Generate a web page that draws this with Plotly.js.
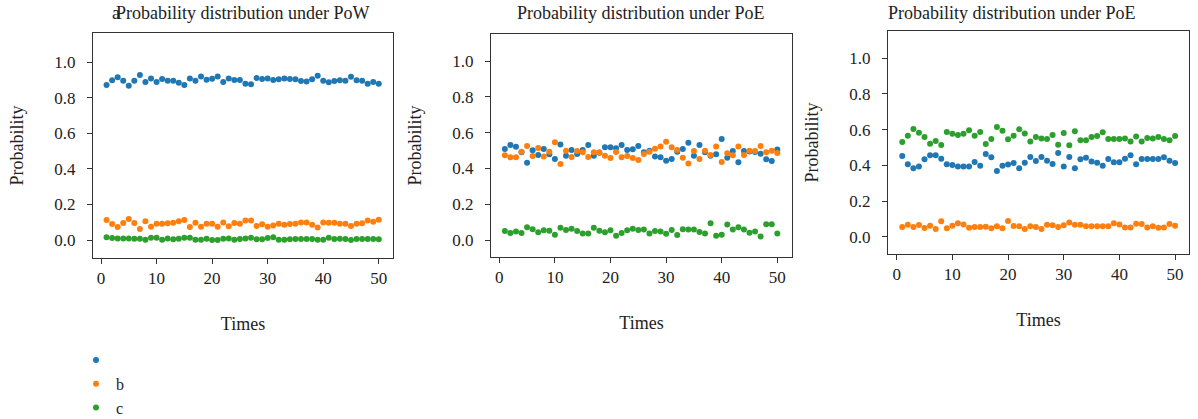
<!DOCTYPE html>
<html>
<head>
<meta charset="utf-8">
<script src="https://cdn.plot.ly/plotly-3.0.1.min.js"></script>
<style>html,body{margin:0;padding:0;background:#fff;}#chart{width:1198px;height:419px;}</style>
</head>
<body>
<div id="chart"></div>
<script>
// ---- data ----
const times = Array.from({length: 50}, (_, i) => i + 1);
const seriesNames = ["", "b", "c"];
const panelTitles = ["Probability distribution under PoW", "Probability distribution under PoE", "Probability distribution under PoE"];
const xTitle = "Times";
const yTitle = "Probability";

// Panel 1 (PoW)
const powA = [0.871,0.897,0.914,0.895,0.867,0.895,0.927,0.888,0.908,0.888,0.904,0.895,0.895,0.884,0.871,0.908,0.895,0.919,0.901,0.906,0.919,0.888,0.908,0.899,0.899,0.878,0.875,0.910,0.904,0.908,0.899,0.903,0.908,0.904,0.903,0.893,0.891,0.903,0.923,0.895,0.886,0.893,0.897,0.895,0.917,0.897,0.895,0.878,0.888,0.878];
const powB = [0.112,0.090,0.073,0.096,0.118,0.096,0.062,0.105,0.075,0.092,0.092,0.094,0.097,0.105,0.112,0.073,0.097,0.075,0.092,0.092,0.075,0.099,0.077,0.096,0.092,0.109,0.109,0.079,0.088,0.075,0.081,0.092,0.086,0.090,0.092,0.099,0.099,0.086,0.071,0.099,0.097,0.097,0.092,0.092,0.079,0.092,0.094,0.109,0.103,0.114];
const powC = [0.015,0.011,0.009,0.009,0.009,0.007,0.007,0.002,0.013,0.013,0.002,0.009,0.004,0.007,0.013,0.013,0.002,0.002,0.007,0.000,0.000,0.007,0.009,0.002,0.006,0.009,0.013,0.004,0.004,0.011,0.015,0.002,0.002,0.004,0.006,0.006,0.006,0.006,0.002,0.002,0.013,0.006,0.007,0.006,0.000,0.006,0.006,0.006,0.006,0.004];

// Panel 2 (PoE)
const poe1A = [0.508,0.531,0.521,0.490,0.432,0.501,0.475,0.508,0.479,0.453,0.533,0.471,0.503,0.480,0.503,0.531,0.471,0.488,0.518,0.518,0.512,0.531,0.503,0.507,0.525,0.490,0.499,0.466,0.462,0.443,0.453,0.493,0.508,0.544,0.471,0.531,0.490,0.471,0.479,0.564,0.460,0.497,0.434,0.497,0.495,0.492,0.482,0.451,0.441,0.506];
const poe1B = [0.473,0.462,0.462,0.493,0.525,0.469,0.514,0.467,0.493,0.546,0.425,0.499,0.464,0.497,0.490,0.464,0.490,0.490,0.471,0.458,0.492,0.462,0.469,0.458,0.447,0.480,0.493,0.510,0.523,0.549,0.518,0.503,0.460,0.428,0.497,0.453,0.499,0.475,0.523,0.436,0.484,0.473,0.523,0.475,0.499,0.497,0.525,0.490,0.499,0.486];
const poe1C = [0.050,0.039,0.047,0.039,0.071,0.060,0.043,0.054,0.052,0.030,0.069,0.056,0.063,0.050,0.037,0.037,0.069,0.052,0.043,0.054,0.024,0.039,0.054,0.063,0.056,0.058,0.037,0.050,0.047,0.035,0.056,0.028,0.060,0.058,0.058,0.045,0.037,0.093,0.024,0.030,0.086,0.058,0.071,0.058,0.041,0.048,0.019,0.088,0.088,0.037];

// Panel 3 (PoE)
const poe2A = [0.452,0.406,0.383,0.393,0.434,0.456,0.456,0.437,0.406,0.402,0.394,0.394,0.394,0.419,0.398,0.464,0.445,0.368,0.398,0.404,0.413,0.383,0.415,0.447,0.424,0.447,0.426,0.407,0.469,0.393,0.447,0.383,0.434,0.443,0.422,0.415,0.398,0.436,0.417,0.417,0.437,0.456,0.406,0.436,0.436,0.436,0.436,0.445,0.426,0.413];
const poe2B = [0.054,0.067,0.054,0.065,0.049,0.062,0.043,0.086,0.047,0.062,0.075,0.069,0.050,0.054,0.054,0.056,0.047,0.058,0.047,0.088,0.060,0.058,0.043,0.058,0.054,0.043,0.067,0.064,0.054,0.064,0.080,0.067,0.067,0.058,0.058,0.058,0.058,0.058,0.075,0.069,0.052,0.052,0.073,0.071,0.052,0.058,0.050,0.052,0.071,0.062];
const poe2C = [0.531,0.566,0.604,0.583,0.559,0.521,0.536,0.514,0.587,0.577,0.570,0.577,0.596,0.566,0.587,0.520,0.548,0.615,0.594,0.546,0.566,0.602,0.579,0.534,0.559,0.551,0.548,0.570,0.516,0.581,0.512,0.591,0.540,0.540,0.559,0.565,0.585,0.548,0.548,0.548,0.550,0.533,0.561,0.533,0.553,0.550,0.559,0.548,0.540,0.565];

const colors = ["#1f77b4", "#ff7f0e", "#2ca02c"];
const FONT = "'Liberation Serif', 'DejaVu Serif', serif";

const panels = [
  {a: powA, b: powB, c: powC, xa: "x", ya: "y"},
  {a: poe1A, b: poe1B, c: poe1C, xa: "x2", ya: "y2"},
  {a: poe2A, b: poe2B, c: poe2C, xa: "x3", ya: "y3"}
];

const traces = [];
panels.forEach((p, pi) => {
  [p.a, p.b, p.c].forEach((vals, si) => {
    traces.push({
      type: "scatter", mode: "markers",
      x: times, y: vals,
      xaxis: p.xa, yaxis: p.ya,
      name: seriesNames[si],
      showlegend: pi === 0,
      marker: {color: colors[si], size: 6}
    });
  });
});

// ---- layout ----
const W = 1198, H = 419;
const M = {l: 93, r: 9, t: 31, b: 161, autoexpand: false};
const PW = W - M.l - M.r, PH = H - M.t - M.b;
const px = v => (v - M.l) / PW;
const py = v => (H - M.b - v) / PH;

function xAxis(dom, rng) {
  return {
    domain: dom, range: rng, showgrid: false, zeroline: false,
    showline: true, mirror: true, linecolor: "#333", linewidth: 1,
    ticks: "outside", ticklen: 5, tickcolor: "#333",
    tick0: 0, dtick: 10,
    tickfont: {family: FONT, size: 17, color: "#222"},
    title: {text: xTitle, font: {family: FONT, size: 18, color: "#222"}, standoff: 29}
  };
}
function yAxis(dom, rng, anchor) {
  return {
    domain: dom, range: rng, anchor: anchor, showgrid: false, zeroline: false,
    showline: true, mirror: true, linecolor: "#333", linewidth: 1,
    ticks: "outside", ticklen: 5, tickcolor: "#333",
    tick0: 0, dtick: 0.2, tickformat: ".1f", ticklabelstandoff: 8,
    tickfont: {family: FONT, size: 17, color: "#222"},
    title: {text: yTitle, font: {family: FONT, size: 18, color: "#222"}, standoff: 26}
  };
}

function ann(text, x, y) {
  return {text: text, x: px(x), y: py(y), xref: "paper", yref: "paper",
    xanchor: "center", yanchor: "middle", showarrow: false,
    font: {family: FONT, size: 18, color: "#222"}};
}

const layout = {
  width: W, height: H,
  margin: M,
  paper_bgcolor: "#fff", plot_bgcolor: "#fff",
  showlegend: true,
  legend: {
    x: px(76), y: py(343), xanchor: "left", yanchor: "top",
    font: {family: FONT, size: 16, color: "#222"},
    bgcolor: "rgba(0,0,0,0)", itemwidth: 30, tracegroupgap: 0
  },
  xaxis: Object.assign(xAxis([px(93), px(393)], [-1.44, 52.56]), {anchor: "y"}),
  yaxis: yAxis([py(258), py(33)], [-0.101, 1.163], "x"),
  xaxis2: Object.assign(xAxis([px(491), px(792)], [-1.49, 52.64]), {anchor: "y2"}),
  yaxis2: yAxis([py(257), py(34)], [-0.095, 1.151], "x2"),
  xaxis3: Object.assign(xAxis([px(888), px(1189)], [-1.56, 52.5]), {anchor: "y3"}),
  yaxis3: yAxis([py(254), py(31)], [-0.097, 1.153], "x3"),
  annotations: [
    ann(panelTitles[0], 243, 13),
    ann("a", 116, 13),
    ann(panelTitles[1], 641, 13),
    ann(panelTitles[2], 1012, 13)
  ]
};

Plotly.newPlot("chart", traces, layout, {displayModeBar: false, staticPlot: true});
</script>
</body>
</html>
